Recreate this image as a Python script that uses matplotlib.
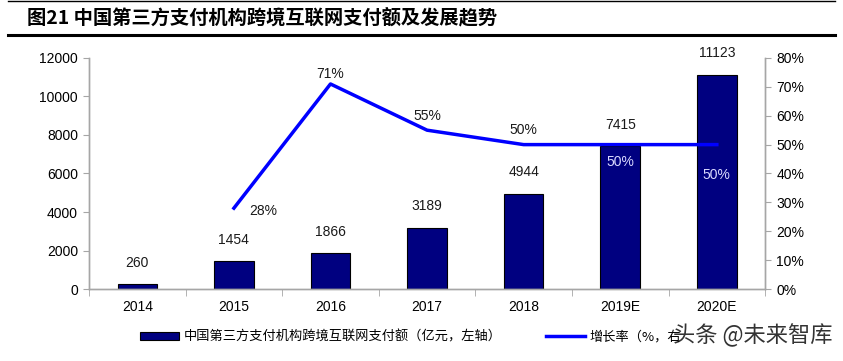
#!/usr/bin/env python3

import numpy as np
from matplotlib import pyplot as plt
from matplotlib.lines import Line2D
from matplotlib.patches import Patch

plt.rcParams['font.family'] = ['Liberation Sans', 'Noto Sans CJK SC', 'DejaVu Sans']

years = ["2014", "2015", "2016", "2017", "2018", "2019E", "2020E"]
amount = [260, 1454, 1866, 3189, 4944, 7415, 11123]
growth = [None, 28, 71, 55, 50, 50, 50]

BAR_COLOR = "#000080"
LINE_COLOR = "#0000ff"
GRAY = "#a6a6a6"


def main():
	fig = plt.figure(figsize=(8.43, 3.61), dpi=100)
	ax = fig.add_axes([0.1056, 0.1994, 0.802, 0.64])
	ax2 = ax.twinx()

	x = np.arange(len(years))
	ax.bar(x, amount, width=0.41, color=BAR_COLOR, edgecolor="black", linewidth=0.8, zorder=2)
	ax.set_xlim(-0.5, len(years) - 0.5)
	ax.set_ylim(0, 12000)
	ax.set_yticks(range(0, 12001, 2000))
	ax.set_xticks(x)
	ax.set_xticklabels(years)
	ax.set_xticks(np.arange(-0.5, len(years)), minor=True)
	ax.tick_params(axis="x", which="major", length=0, pad=8)
	ax.tick_params(axis="x", which="minor", length=5, color=GRAY, direction="out")
	ax.tick_params(axis="y", length=4, color=GRAY, labelsize=10, pad=4)
	ax.tick_params(axis="x", labelsize=10)

	for i, v in enumerate(amount):
		ax.text(i, v + 750, str(v), ha="center", va="bottom", fontsize=10, color="#1a1a1a")

	gx = [i for i, g in enumerate(growth) if g is not None]
	gy = [g for g in growth if g is not None]
	ax2.plot(gx, gy, color=LINE_COLOR, linewidth=2.5, zorder=3)
	ax2.set_ylim(0, 80)
	ax2.set_yticks(range(0, 81, 10))
	ax2.set_yticklabels(["{}%".format(t) for t in range(0, 81, 10)])
	ax2.tick_params(axis="y", length=4, color=GRAY, labelsize=10, pad=4)

	# growth labels, placed by hand like the source chart
	ax2.text(1.3, 27, "28%", ha="center", va="center", fontsize=10, color="#1a1a1a")
	ax2.text(2.0, 74.3, "71%", ha="center", va="center", fontsize=10, color="#1a1a1a")
	ax2.text(3.0, 60, "55%", ha="center", va="center", fontsize=10, color="#1a1a1a")
	ax2.text(4.0, 55, "50%", ha="center", va="center", fontsize=10, color="#1a1a1a")
	ax2.text(5.0, 44, "50%", ha="center", va="center", fontsize=10, color="#d9d9ff")
	ax2.text(6.0, 39.5, "50%", ha="center", va="center", fontsize=10, color="#d9d9ff")

	for a in (ax, ax2):
		a.spines["top"].set_visible(False)
		for s in ("left", "right", "bottom"):
			a.spines[s].set_color(GRAY)
			a.spines[s].set_linewidth(1.0)

	handles = [
		Patch(facecolor=BAR_COLOR, edgecolor="black", linewidth=0.8),
		Line2D([0], [0], color=LINE_COLOR, linewidth=2.5),
	]
	# second label is cut off by the watermark in the source image
	labels = ["中国第三方支付机构跨境互联网支付额（亿元，左轴）", "增长率（%，右"]
	fig.legend(handles, labels, loc="center left", bbox_to_anchor=(0.1525, 0.066), ncol=2,
			frameon=False, handlelength=2.95, handleheight=0.55,
			columnspacing=3.4, handletextpad=0.3,
			prop={"family": ["Noto Sans CJK SC"], "size": 9.5})

	fig.text(0.032, 0.95, "图21 中国第三方支付机构跨境互联网支付额及发展趋势", ha="left", va="center",
			fontsize=13.9, fontweight="bold", family=["Noto Sans CJK SC"])
	fig.add_artist(Line2D([0.01, 0.99], [0.997, 0.997], color="black", linewidth=1.0))
	fig.add_artist(Line2D([0.01, 0.99], [0.903, 0.903], color="black", linewidth=2.2))

	# watermark
	fig.text(0.988, 0.072, "头条 @未来智库", ha="right", va="center", fontsize=16,
			color="#333333", family=["Noto Sans CJK SC"])

	plt.savefig("out.png", dpi=100)
	plt.close()


if __name__ == "__main__":
	main()
